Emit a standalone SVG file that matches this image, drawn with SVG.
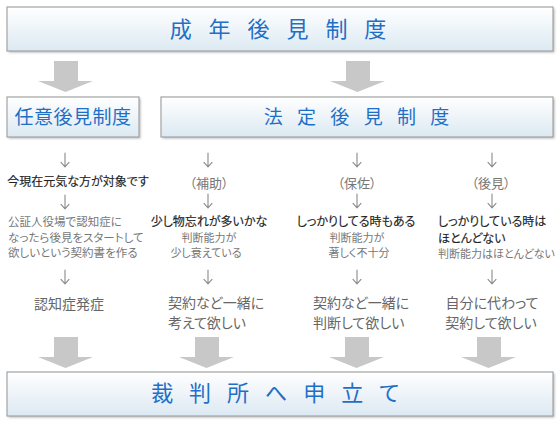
<svg xmlns="http://www.w3.org/2000/svg" width="560" height="426" viewBox="0 0 560 426">
<defs>
<linearGradient id="bg" x1="0" y1="0" x2="0" y2="1">
<stop offset="0" stop-color="#ffffff"/>
<stop offset="1" stop-color="#dce9f2"/>
</linearGradient>
<filter id="sh" x="-5%" y="-20%" width="110%" height="150%">
<feGaussianBlur stdDeviation="1.2"/>
</filter>
<path id="dn" d="M0,0 V13.5 M-4,9.3 L0,13.8 L4,9.3" fill="none" stroke="#8a8a8a" stroke-width="1.1" stroke-linecap="round" stroke-linejoin="round"/>
</defs>
<style>
text{font-family:"Noto Sans CJK JP","Noto Sans CJK SC",sans-serif;font-feature-settings:"palt" 1;}
.box{fill:url(#bg);stroke:#a3a3a3;stroke-width:1.2;}
.shadow{fill:#b8b8b8;filter:url(#sh);}
.title{fill:#1f6fc6;text-anchor:middle;}
.big{fill:#c8c8c8;}
.dark{fill:#222;font-size:12px;stroke:#222;stroke-width:0.15;}
.sm{fill:#777;font-size:11.5px;}
.xs{fill:#777;font-size:11px;}
.res{fill:#666;font-size:14px;}
.par{fill:#777;font-size:13px;text-anchor:middle;}
.mid{text-anchor:middle;}
</style>

<g id="connectors">
<polygon class="big" points="54,61 78,61 78,81 93,81 65.5,92 38,81 54,81"/>
<polygon class="big" points="346,61 370,61 370,81 385,81 357.5,92 330,81 346,81"/>
<polygon class="big" points="54,337 78,337 78,357 93,357 65.5,368 38,357 54,357"/>
<polygon class="big" points="195,337 219,337 219,357 234,357 206.5,368 179,357 195,357"/>
<polygon class="big" points="345,337 369,337 369,357 384,357 356.5,368 329,357 345,357"/>
<polygon class="big" points="477,337 501,337 501,357 516,357 488.5,368 461,357 477,357"/>
<use href="#dn" x="65" y="153"/>
<use href="#dn" x="65" y="195"/>
<use href="#dn" x="65" y="270"/>
<use href="#dn" x="208" y="153"/>
<use href="#dn" x="208" y="194"/>
<use href="#dn" x="208" y="270"/>
<use href="#dn" x="357" y="153"/>
<use href="#dn" x="357" y="194"/>
<use href="#dn" x="357" y="270"/>
<use href="#dn" x="492" y="153"/>
<use href="#dn" x="492" y="194"/>
<use href="#dn" x="492" y="270"/>
</g>

<g id="node-seinen">
<rect class="shadow" x="8.5" y="8.5" width="546" height="44"/>
<rect class="box" x="7" y="7" width="546" height="44"/>
<text class="title" x="281" y="37" font-size="22" letter-spacing="6">成 年 後 見 制 度</text>
</g>

<g id="node-nini">
<rect class="shadow" x="8.5" y="98.5" width="132" height="40"/>
<rect class="box" x="7" y="97" width="132" height="40"/>
<text class="title" x="73" y="124" font-size="19" letter-spacing="0.5">任意後見制度</text>
</g>

<g id="node-hotei">
<rect class="shadow" x="162.5" y="98.5" width="392" height="40"/>
<rect class="box" x="161" y="97" width="392" height="40"/>
<text class="title" x="359" y="124" font-size="19" letter-spacing="5">法 定 後 見 制 度</text>
</g>

<g id="node-saiban">
<rect class="shadow" x="8.5" y="373.5" width="546" height="44"/>
<rect class="box" x="7" y="372" width="546" height="44"/>
<text class="title" x="278" y="401" font-size="22" letter-spacing="5.5">裁 判 所 へ 申 立 て</text>
</g>

<g id="col-nini">
<text class="dark mid" x="78" y="186">今現在元気な方が対象です</text>
<text class="sm" x="8" y="226">公証人役場で認知症に</text>
<text class="sm" x="8" y="242">なったら後見をスタートして</text>
<text class="sm" x="8" y="257">欲しいという契約書を作る</text>
<text class="res mid" x="69" y="309">認知症発症</text>
</g>

<g id="col-hojo">
<text class="par" x="209" y="188">（補助）</text>
<text class="dark mid" x="209" y="226" font-size="13.5">少し物忘れが多いかな</text>
<text class="xs mid" x="209" y="242">判断能力が</text>
<text class="xs mid" x="206" y="257">少し衰えている</text>
<text class="res" x="168" y="308">契約など一緒に</text>
<text class="res" x="168" y="328">考えて欲しい</text>
</g>

<g id="col-hosa">
<text class="par" x="357" y="188">（保佐）</text>
<text class="dark mid" x="356" y="226" font-size="13.5">しっかりしてる時もある</text>
<text class="xs mid" x="357" y="242">判断能力が</text>
<text class="xs mid" x="359" y="257">著しく不十分</text>
<text class="res" x="313" y="308">契約など一緒に</text>
<text class="res" x="313" y="328">判断して欲しい</text>
</g>

<g id="col-kouken">
<text class="par" x="491" y="188">（後見）</text>
<text class="dark" x="438" y="226" font-size="13.5">しっかりしている時は</text>
<text class="dark" x="438" y="243" font-size="13.5">ほとんどない</text>
<text class="xs" x="438" y="258">判断能力はほとんどない</text>
<text class="res mid" x="492" y="308">自分に代わって</text>
<text class="res mid" x="491" y="328">契約して欲しい</text>
</g>
</svg>
